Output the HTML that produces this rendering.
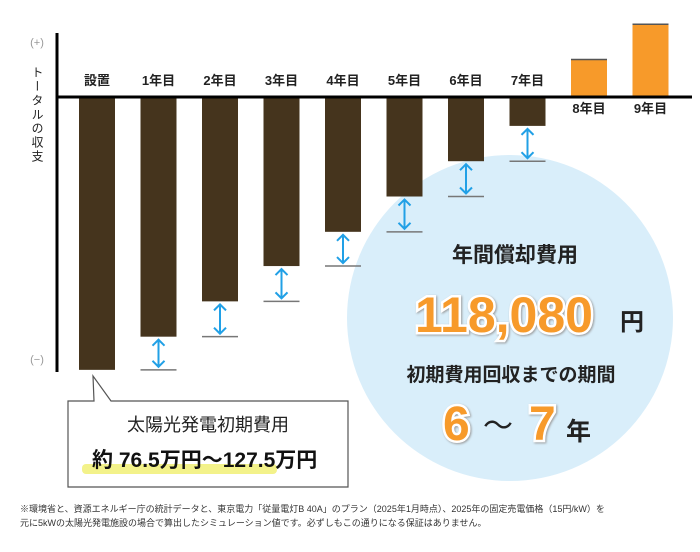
<!DOCTYPE html>
<html><head><meta charset="utf-8"><style>
body{margin:0;background:#fff;}
svg text{font-family:"Liberation Sans","Noto Sans CJK JP",sans-serif;}
</style></head><body>
<svg width="700" height="547" viewBox="0 0 700 547">
<circle cx="510" cy="318" r="163" fill="#d9eefa"/>
<g id="bars"></g>
<line x1="57" y1="33" x2="57" y2="372" stroke="#000" stroke-width="3"/>
<line x1="57" y1="97" x2="692" y2="97" stroke="#000" stroke-width="3"/>
<text x="37" y="46" font-size="11" fill="#999" text-anchor="middle">(+)</text>
<text x="37" y="363" font-size="11" fill="#999" text-anchor="middle">(−)</text>
<text x="37" y="66" font-size="12" fill="#222" style="writing-mode:vertical-rl;letter-spacing:2px">トータルの収支</text>
<g>
<path d="M68 401 L94 401 L93 376 L111 401 L348 401 L348 487 L68 487 Z" fill="#fff" stroke="#555" stroke-width="1.2"/>
<rect x="82" y="464" width="195" height="10" rx="4" fill="#f3f28a"/>
<text x="208" y="431" font-size="18" fill="#222" text-anchor="middle">太陽光発電初期費用</text>
<text x="92" y="467" font-size="21" font-weight="bold" fill="#111">約 76.5万円〜127.5万円</text>
</g>
<g>
<text x="515" y="262" font-size="21" font-weight="bold" fill="#222" text-anchor="middle">年間償却費用</text>
<text x="504" y="332" font-size="50" font-weight="bold" fill="#f79a2a" stroke="#fff" stroke-width="5" paint-order="stroke" text-anchor="middle" style="filter:drop-shadow(1px 1px 1px #999)">118,080</text>
<text x="620" y="330" font-size="24" font-weight="bold" fill="#222">円</text>
<text x="511" y="381" font-size="19" font-weight="bold" fill="#222" text-anchor="middle">初期費用回収までの期間</text>
<text x="443" y="440" font-size="48" font-weight="bold" fill="#f79a2a" stroke="#fff" stroke-width="5" paint-order="stroke" style="filter:drop-shadow(1px 1px 1px #999)">6</text>
<text x="483" y="436" font-size="30" fill="#222">〜</text>
<text x="529" y="440" font-size="48" font-weight="bold" fill="#f79a2a" stroke="#fff" stroke-width="5" paint-order="stroke" style="filter:drop-shadow(1px 1px 1px #999)">7</text>
<text x="566" y="440" font-size="25" font-weight="bold" fill="#222">年</text>
</g>
<g font-size="9" fill="#333">
<text x="20" y="512">※環境省と、資源エネルギー庁の統計データと、東京電力「従量電灯B 40A」のプラン（2025年1月時点）、2025年の固定売電価格（15円/kW）を</text>
<text x="20" y="526">元に5kWの太陽光発電施設の場合で算出したシミュレーション値です。必ずしもこの通りになる保証はありません。</text>
</g>
</svg>
<script>
const categories=["設置","1年目","2年目","3年目","4年目","5年目","6年目","7年目","8年目","9年目"];
const balances=[-127.5,-112,-95.5,-79,-63,-46.5,-30,-13.5,17.5,34];
const stepValue=[16.3];
const x0=79,band=61.5,bw=36,zeroY=97,pxPer=2.14;
function xs(i){return x0+i*band;}
function ys(v){return zeroY-v*pxPer;}
const ns="http://www.w3.org/2000/svg";
const g=document.getElementById('bars');
function mk(t,a){const e=document.createElementNS(ns,t);for(const k in a)e.setAttribute(k,a[k]);g.appendChild(e);return e;}
categories.forEach((c,i)=>{
  const v=balances[i],x=xs(i),y=ys(v);
  const r=mk('rect',{x:x,y:Math.min(y,zeroY),width:bw,height:Math.abs(y-zeroY),fill:v<0?'#45341d':'#f79a2a'});
  
  
  if(v>0){mk('line',{x1:x,y1:y,x2:x+bw,y2:y,stroke:'#555','stroke-width':1.5});}
  const ly=v<0?zeroY-12:zeroY+16;
  const t=mk('text',{x:x+bw/2,y:ly,'font-size':13,'font-weight':'bold',fill:'#222','text-anchor':'middle'});
  t.textContent=c;
  
  
  if(i>0&&v<0){
    const prev=ys(balances[i-1]);
    const cx=x+bw/2;
    mk('line',{x1:x,y1:prev,x2:x+bw,y2:prev,stroke:'#777','stroke-width':1.5});
    const a=mk('path',{d:`M${cx} ${y+3} L${cx} ${prev-3} M${cx-6} ${y+9} L${cx} ${y+3} L${cx+6} ${y+9} M${cx-6} ${prev-9} L${cx} ${prev-3} L${cx+6} ${prev-9}`,stroke:'#21a0e6','stroke-width':2,fill:'none'});
    
    
  }
});
</script>
</body></html>
